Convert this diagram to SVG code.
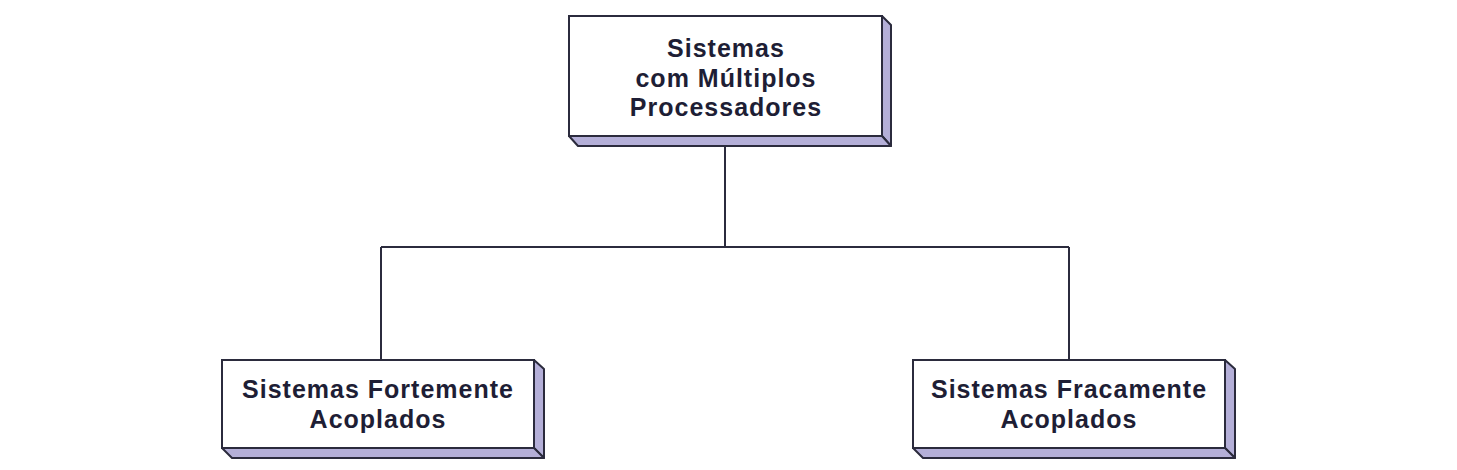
<svg xmlns="http://www.w3.org/2000/svg" width="1457" height="470" viewBox="0 0 1457 470">
<style>
.face{fill:#ffffff;stroke:#2b2b3d;stroke-width:2}
.side{fill:#b4afd8;stroke:#2b2b3d;stroke-width:2;stroke-linejoin:round}
.lbl{font-family:"Liberation Sans",Arial,sans-serif;font-weight:bold;font-size:25px;letter-spacing:1px;fill:#1e1e35;text-anchor:middle}
.conn{fill:none;stroke:#2b2b3d;stroke-width:2}
</style>
<rect width="1457" height="470" fill="#ffffff"/>
<g id="connectors">
<path class="conn" d="M725,146 V247 M381,247 H1069 M381,247 V360 M1069,247 V360"/>
</g>
<g id="node-top">
<polygon class="side" points="882,16 891,25 891,146 882,136"/>
<polygon class="side" points="569,136 882,136 891,146 578,146"/>
<rect class="face" x="569" y="16" width="313" height="120"/>
<text class="lbl" x="726" y="57">Sistemas</text>
<text class="lbl" x="726" y="87">com Múltiplos</text>
<text class="lbl" x="726" y="116">Processadores</text>
</g>
<g id="node-left">
<polygon class="side" points="534,360 544,369 544,458 534,448"/>
<polygon class="side" points="222,448 534,448 544,458 232,458"/>
<rect class="face" x="222" y="360" width="312" height="88"/>
<text class="lbl" x="378" y="398">Sistemas Fortemente</text>
<text class="lbl" x="378" y="428">Acoplados</text>
</g>
<g id="node-right">
<polygon class="side" points="1225,360 1235,369 1235,458 1225,448"/>
<polygon class="side" points="913,448 1225,448 1235,458 923,458"/>
<rect class="face" x="913" y="360" width="312" height="88"/>
<text class="lbl" x="1069" y="398">Sistemas Fracamente</text>
<text class="lbl" x="1069" y="428">Acoplados</text>
</g>
</svg>
